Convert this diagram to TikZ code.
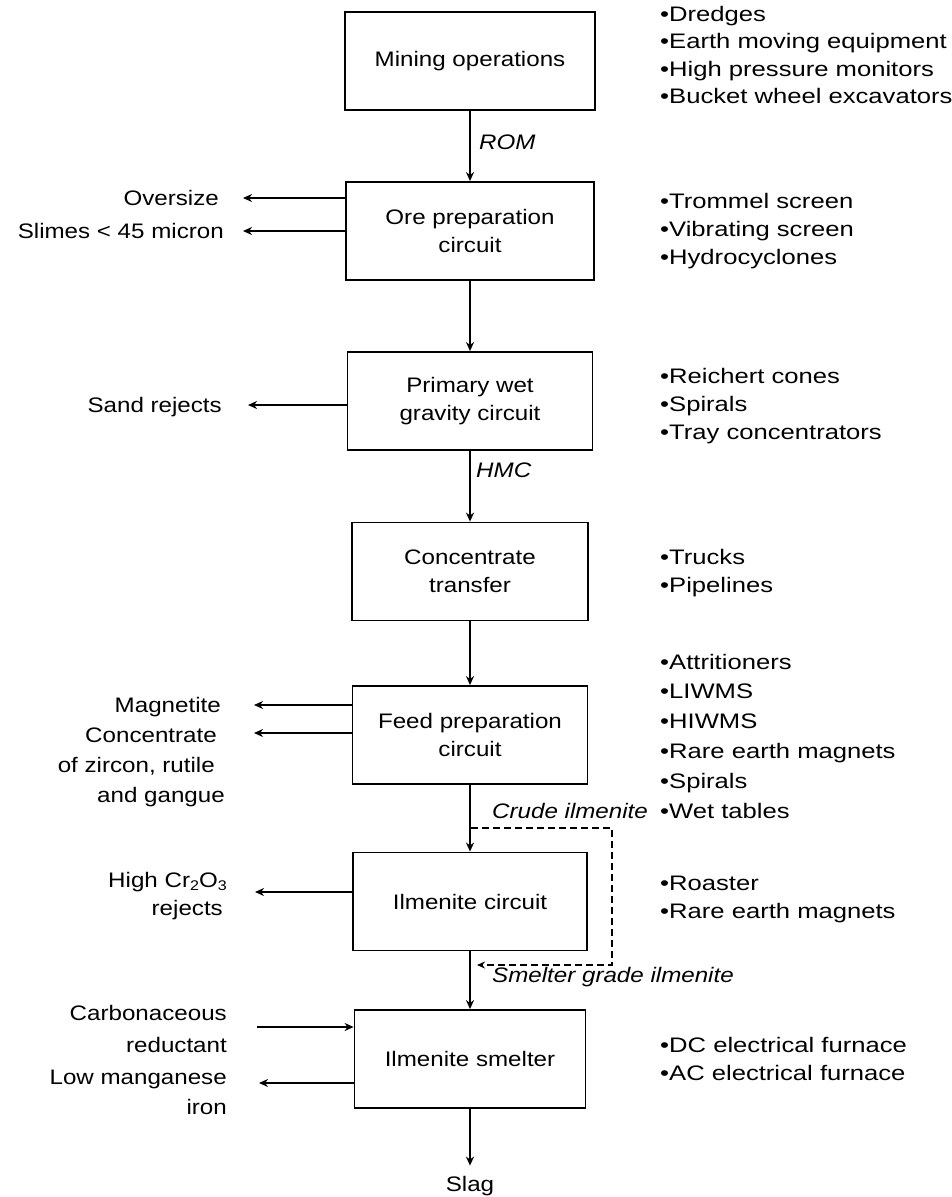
\documentclass[tikz,border=0pt]{standalone}
\usepackage{fontspec}
\setmainfont{Liberation Sans}[FakeStretch=1.15]
\newfontfamily\listfont{Liberation Sans}[FakeStretch=1.22]
\usetikzlibrary{arrows.meta}
\newcommand{\chemsub}[1]{\raisebox{-0.35ex}{\fontsize{14}{14}\selectfont#1}}
\begin{document}
\begin{tikzpicture}[x=1pt,y=-1pt,
  every node/.style={font=\fontsize{21}{28}\selectfont},
  stagebox/.style={draw, line width=1.8pt, align=center, inner sep=0pt, minimum height=98pt},
  flowarrow/.style={line width=1.8pt, -{Stealth[length=9pt,width=8pt]}},
  dashflow/.style={line width=1.4pt, dash pattern=on 7pt off 4pt, -{Stealth[length=8pt,width=7pt]}},
  eqitem/.style={anchor=base west, inner sep=0pt, font=\fontsize{21}{28}\selectfont\listfont},
  sidelabel/.style={anchor=base east, inner sep=0pt},
  flowtag/.style={anchor=base west, inner sep=0pt, font=\fontsize{21}{28}\selectfont\itshape}]

\fill[white] (0,0) rectangle (952,1197);
\useasboundingbox (0,0) rectangle (952,1197);

% process stages
\node[stagebox, minimum width=250pt] (mine)  at (470,61)    {Mining operations};
\node[stagebox, minimum width=248pt] (ore)   at (470,231)   {Ore preparation\\circuit};
\node[stagebox, minimum width=245pt] (prim)  at (470,401)   {Primary wet\\gravity circuit};
\node[stagebox, minimum width=236pt] (conc)  at (470,571.5) {Concentrate\\transfer};
\node[stagebox, minimum width=235pt] (feed)  at (470,735)   {Feed preparation\\circuit};
\node[stagebox, minimum width=234pt] (ilm)   at (470,901.5) {Ilmenite circuit};
\node[stagebox, minimum width=231pt] (smelt) at (470,1059)  {Ilmenite smelter};
\node[anchor=base, inner sep=0pt] (slag) at (470,1191) {Slag};

% main flow
\draw[flowarrow] (mine) -- (ore);
\draw[flowarrow] (ore) -- (prim);
\draw[flowarrow] (prim) -- (conc);
\draw[flowarrow] (conc) -- (feed);
\draw[flowarrow] (feed) -- (ilm);
\draw[flowarrow] (ilm) -- (smelt);
\draw[flowarrow, shorten >=10pt] (smelt.south) -- (slag.north);

% stream labels
\node[flowtag] (rom)   at (479,149) {ROM};
\node[flowtag] (hmc)   at (476,477) {HMC};
\node[flowtag] (crude) at (492,818) {Crude ilmenite};
\node[flowtag] (sgi)   at (492,982) {Smelter grade ilmenite};

% crude ilmenite bypass to the smelter feed
\coordinate (split-top) at (471,828);
\coordinate (loop-se)   at (612,965);
\coordinate (split-bot) at (470,965);
\draw[dashflow, shorten >=7pt] (split-top) -| (loop-se) -- (split-bot);

% equipment lists
\foreach \t [count=\i] in {Dredges, Earth moving equipment, High pressure monitors, Bucket wheel excavators}
  \node[eqitem] (mine-eq-\i) at (660,{21.5+27.3*(\i-1)}) {•\t};
\foreach \t [count=\i] in {Trommel screen, Vibrating screen, Hydrocyclones}
  \node[eqitem] (ore-eq-\i) at (660,{208+28*(\i-1)}) {•\t};
\foreach \t [count=\i] in {Reichert cones, Spirals, Tray concentrators}
  \node[eqitem] (prim-eq-\i) at (660,{383+28*(\i-1)}) {•\t};
\foreach \t [count=\i] in {Trucks, Pipelines}
  \node[eqitem] (conc-eq-\i) at (660,{564+28*(\i-1)}) {•\t};
\foreach \t [count=\i] in {Attritioners, LIWMS, HIWMS, Rare earth magnets, Spirals, Wet tables}
  \node[eqitem] (feed-eq-\i) at (660,{669+29.8*(\i-1)}) {•\t};
\foreach \t [count=\i] in {Roaster, Rare earth magnets}
  \node[eqitem] (ilm-eq-\i) at (660,{890+28*(\i-1)}) {•\t};
\foreach \t [count=\i] in {DC electrical furnace, AC electrical furnace}
  \node[eqitem] (smelt-eq-\i) at (660,{1052+28*(\i-1)}) {•\t};

% side streams
\node[sidelabel] (ovs)  at (219,205) {Oversize};
\node[sidelabel] (slm)  at (224,238) {Slimes < 45 micron};
\node[sidelabel] (sand) at (222,412) {Sand rejects};
\node[sidelabel] (mag)  at (221,712) {Magnetite};
\node[sidelabel] (zr1)  at (217,742) {Concentrate};
\node[sidelabel] (zr2)  at (215,772) {of zircon, rutile};
\node[sidelabel] (zr3)  at (225,802) {and gangue};
\node[sidelabel] (cr1)  at (227,887) {High Cr\chemsub{2}O\chemsub{3}};
\node[sidelabel] (cr2)  at (223,915) {rejects};
\node[sidelabel] (cb1)  at (227,1020) {Carbonaceous};
\node[sidelabel] (cb2)  at (227,1052) {reductant};
\node[sidelabel] (fe1)  at (227,1084) {Low manganese};
\node[sidelabel] (fe2)  at (227,1114) {iron};

\coordinate (ovs-end)  at (243,198);
\coordinate (slm-end)  at (243,231);
\coordinate (sand-end) at (248,405);
\coordinate (mag-end)  at (254,705);
\coordinate (zr-end)   at (254,733);
\coordinate (cr-end)   at (255,892);
\coordinate (cb-start) at (257,1027);
\coordinate (fe-end)   at (259,1083);

\draw[flowarrow] (ore.west |- ovs-end) -- (ovs-end);
\draw[flowarrow] (ore.west |- slm-end) -- (slm-end);
\draw[flowarrow] (prim.west |- sand-end) -- (sand-end);
\draw[flowarrow] (feed.west |- mag-end) -- (mag-end);
\draw[flowarrow] (feed.west |- zr-end) -- (zr-end);
\draw[flowarrow] (ilm.west |- cr-end) -- (cr-end);
\draw[flowarrow] (cb-start) -- (smelt.west |- cb-start);
\draw[flowarrow] (smelt.west |- fe-end) -- (fe-end);
\end{tikzpicture}
\end{document}
